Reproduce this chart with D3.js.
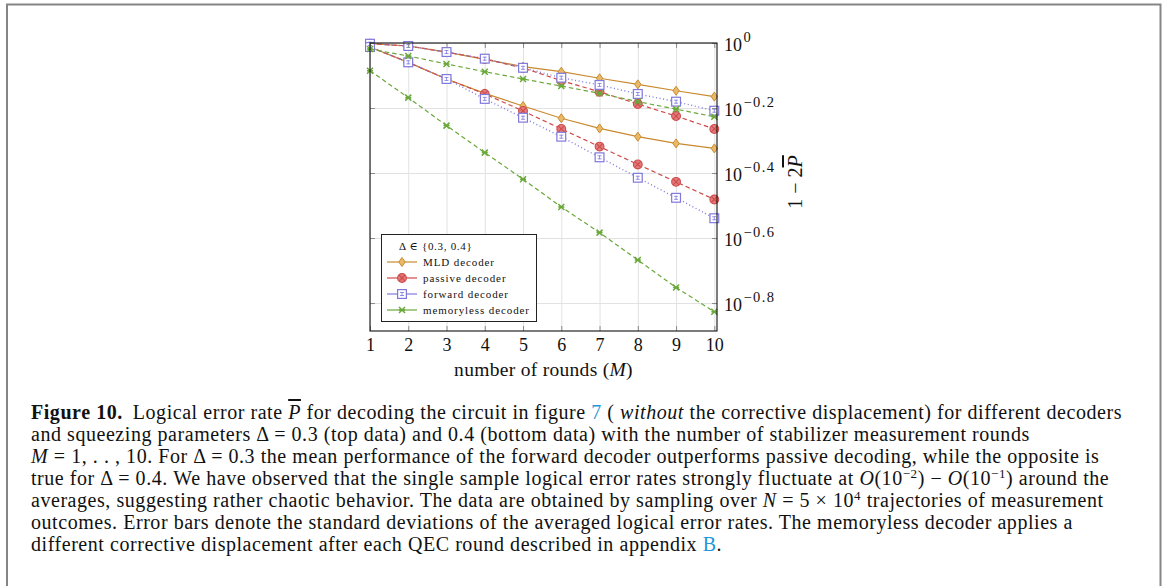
<!DOCTYPE html>
<html>
<head>
<meta charset="utf-8">
<script src="https://cdn.jsdelivr.net/npm/d3@7"></script>
<style>
	body { margin: 0; background: #fff; }
	svg text { font-family: 'Liberation Serif', 'DejaVu Serif', serif; fill: #111; }
</style>
</head>
<body>
<div id="chart"></div>
<script>
// number of rounds M
const rounds = [1, 2, 3, 4, 5, 6, 7, 8, 9, 10];

// 1 - 2P, Delta = 0.3 (top data)
const mldTop = [0.995, 0.979, 0.938, 0.891, 0.846, 0.816, 0.779, 0.746, 0.713, 0.684];
const passiveTop = [0.995, 0.979, 0.938, 0.893, 0.838, 0.766, 0.708, 0.649, 0.596, 0.544];
const forwardTop = [0.995, 0.979, 0.938, 0.895, 0.839, 0.782, 0.743, 0.697, 0.660, 0.619];
const memorylessTop = [0.958, 0.912, 0.862, 0.816, 0.775, 0.737, 0.700, 0.660, 0.626, 0.593];

// 1 - 2P, Delta = 0.4 (bottom data)
const mldBottom = [0.972, 0.872, 0.775, 0.700, 0.640, 0.587, 0.546, 0.515, 0.491, 0.474];
const passiveBottom = [0.972, 0.872, 0.775, 0.697, 0.618, 0.544, 0.480, 0.423, 0.374, 0.330];
const forwardBottom = [0.972, 0.872, 0.775, 0.673, 0.589, 0.515, 0.445, 0.385, 0.334, 0.289];
const memorylessBottom = [0.822, 0.679, 0.557, 0.460, 0.381, 0.313, 0.261, 0.215, 0.177, 0.149];

const decoderNames = ['MLD decoder', 'passive decoder', 'forward decoder', 'memoryless decoder'];
const yTickExponents = [0, -0.2, -0.4, -0.6, -0.8];
const yTickLabels = ['0', '\u22120.2', '\u22120.4', '\u22120.6', '\u22120.8'];
const legendTitle = '\u0394 \u2208 {0.3, 0.4}';
const xTitle = 'number of rounds (';

// caption, one array per printed line
const captionLines = [
	[['Figure 10.', 'b'], ['Logical error rate ', 'gap'], ['P', 'ov'], [' for decoding the circuit in figure '], ['7', 'a'], [' ( '], ['without', 'i'], [' the corrective displacement) for different decoders']],
	[['and squeezing parameters \u0394 = 0.3 (top data) and 0.4 (bottom data) with the number of stabilizer measurement rounds']],
	[['M', 'i'], [' = 1, . . , 10. For \u0394 = 0.3 the mean performance of the forward decoder outperforms passive decoding, while the opposite is']],
	[['true for \u0394 = 0.4. We have observed that the single sample logical error rates strongly fluctuate at '], ['O', 'i'], ['(10'], ['\u22122', 'sup'], [') \u2212 '], ['O', 'i'], ['(10'], ['\u22121', 'sup'], [') around the']],
	[['averages, suggesting rather chaotic behavior. The data are obtained by sampling over '], ['N', 'i'], [' = 5 \u00d7 10'], ['4', 'sup'], [' trajectories of measurement']],
	[['outcomes. Error bars denote the standard deviations of the averaged logical error rates. The memoryless decoder applies a']],
	[['different corrective displacement after each QEC round described in appendix '], ['B', 'a'], ['.']]
];

class DecoderChart {

	/**
	 * @param {HTMLElement} element
	 */
	constructor(element) {
		this.element = element;
		this.plot = { left: 370, right: 717, top: 43, bottom: 331 };
	}

	create() {
		this.svg = d3.select(this.element).append('svg')
			.attr('width', 1165)
			.attr('height', 586);

		this.svg.append('rect')
			.attr('x', 7).attr('y', 4.5)
			.attr('width', 1153.5).attr('height', 620)
			.attr('fill', 'none')
			.attr('stroke', '#858585')
			.attr('stroke-width', 2);

		const p = this.plot;
		this.x = d3.scaleLinear().domain([1, 10.07]).range([p.left, p.right]);
		this.y = d3.scaleLog().domain([Math.pow(10, -0.886), 1]).range([p.bottom, p.top]);

		this._drawGrid();
		this._drawSeries();
		this._drawAxes();
		this._drawLegend();
		this._drawCaption();
	}

	_drawGrid() {
		const p = this.plot;
		const yTicks = yTickExponents.map(e => Math.pow(10, e));
		const grid = this.svg.append('g').attr('class', 'grid');

		grid.append('g')
			.attr('transform', `translate(0,${p.bottom})`)
			.call(d3.axisBottom(this.x).tickValues(rounds).tickSize(-(p.bottom - p.top)).tickFormat(''));
		grid.append('g')
			.attr('transform', `translate(${p.left},0)`)
			.call(d3.axisLeft(this.y).tickValues(yTicks).tickSize(-(p.right - p.left)).tickFormat(''));

		grid.selectAll('.domain').remove();
		grid.selectAll('line').attr('stroke', '#e2e2e2').attr('stroke-width', 1);
	}

	_markerStyles() {
		return [
			{ kind: 'diamond', color: '#c98a2e', fill: '#e9b968', dash: null, width: 1.2 },
			{ kind: 'otimes', color: '#d04a4a', fill: '#e27c7c', dash: '4.5,3', width: 1.2 },
			{ kind: 'boxplus', color: '#7f79dd', fill: '#ffffff', dash: '1,2.6', width: 1.4 },
			{ kind: 'cross', color: '#6aa83a', fill: '#6aa83a', dash: '4.5,3', width: 1.2 }
		];
	}

	/**
	 * @param {d3.selection} g
	 * @param {Object} style
	 */
	_drawMarker(g, style) {
		const c = style.color;
		if (style.kind === 'diamond') {
			g.append('path').attr('d', 'M0,-4.5L3.2,0L0,4.5L-3.2,0Z')
				.attr('fill', style.fill).attr('stroke', c).attr('stroke-width', 1);
		} else if (style.kind === 'otimes') {
			g.append('circle').attr('r', 4.4)
				.attr('fill', style.fill).attr('stroke', c).attr('stroke-width', 1.1);
			g.append('path').attr('d', 'M-3,-3L3,3M-3,3L3,-3')
				.attr('stroke', c).attr('stroke-width', 1.1);
		} else if (style.kind === 'boxplus') {
			g.append('rect').attr('x', -4.4).attr('y', -4.4).attr('width', 8.8).attr('height', 8.8)
				.attr('fill', style.fill).attr('stroke', c).attr('stroke-width', 1.2);
			g.append('path').attr('d', 'M-2,-1.5L2,-1.5M-2,1.5L2,1.5M0,-2L0,2')
				.attr('stroke', c).attr('stroke-width', 0.8);
		} else {
			g.append('path').attr('d', 'M-3,-3L3,3M-3,3L3,-3M-3,0L3,0')
				.attr('stroke', c).attr('stroke-width', 1.5);
		}
	}

	_drawSeries() {
		const styles = this._markerStyles();
		const groups = [
			[mldTop, passiveTop, forwardTop, memorylessTop],
			[mldBottom, passiveBottom, forwardBottom, memorylessBottom]
		];
		const line = d3.line()
			.x((d, i) => this.x(rounds[i]))
			.y(d => this.y(d));
		const layer = this.svg.append('g').attr('class', 'series');

		styles.forEach((style, k) => {
			groups.forEach(group => {
				const values = group[k];
				layer.append('path')
					.datum(values)
					.attr('d', line)
					.attr('fill', 'none')
					.attr('stroke', style.color)
					.attr('stroke-width', style.width)
					.attr('stroke-dasharray', style.dash);
				layer.append('g')
					.selectAll('g')
					.data(values)
					.join('g')
					.attr('transform', (d, i) => `translate(${this.x(rounds[i])},${this.y(d)})`)
					.each((d, i, nodes) => this._drawMarker(d3.select(nodes[i]), style));
			});
		});
	}

	_drawAxes() {
		const p = this.plot;
		const yTicks = yTickExponents.map(e => Math.pow(10, e));
		const axes = this.svg.append('g').attr('class', 'axes');

		const bottom = axes.append('g')
			.attr('transform', `translate(0,${p.bottom})`)
			.call(d3.axisBottom(this.x).tickValues(rounds).tickSizeInner(-5).tickSizeOuter(0).tickPadding(6));
		axes.append('g')
			.attr('transform', `translate(0,${p.top})`)
			.call(d3.axisTop(this.x).tickValues(rounds).tickSizeInner(-5).tickSizeOuter(0).tickFormat(''));
		axes.append('g')
			.attr('transform', `translate(${p.left},0)`)
			.call(d3.axisLeft(this.y).tickValues(yTicks).tickSizeInner(-5).tickSizeOuter(0).tickFormat(''));
		const right = axes.append('g')
			.attr('transform', `translate(${p.right},0)`)
			.call(d3.axisRight(this.y).tickValues(yTicks).tickSizeInner(-5).tickSizeOuter(0).tickPadding(7).tickFormat(''));

		axes.selectAll('.domain').remove();
		axes.selectAll('.tick line').attr('stroke', '#8a8a8a');

		bottom.selectAll('.tick text')
			.attr('font-family', 'Liberation Serif')
			.attr('font-size', 18)
			.attr('fill', '#111')
			.attr('dy', '0.75em');

		right.selectAll('.tick text').each((d, i, nodes) => {
			const t = d3.select(nodes[i])
				.attr('font-family', 'Liberation Serif')
				.attr('font-size', 18)
				.attr('fill', '#111')
				.attr('dy', '0.4em');
			t.append('tspan').text('10');
			t.append('tspan').attr('dx', 1.5).attr('dy', -8.5).attr('font-size', 14.5).attr('letter-spacing', 1.4).text(yTickLabels[i]);
		});

		// frame
		axes.append('rect')
			.attr('x', p.left).attr('y', p.top)
			.attr('width', p.right - p.left).attr('height', p.bottom - p.top)
			.attr('fill', 'none')
			.attr('stroke', '#111')
			.attr('stroke-width', 1.1);

		const xt = axes.append('text')
			.attr('x', (p.left + p.right) / 2)
			.attr('y', 376)
			.attr('text-anchor', 'middle')
			.attr('font-size', 19.5)
			.attr('letter-spacing', 0.3);
		xt.append('tspan').text(xTitle);
		xt.append('tspan').attr('font-style', 'italic').text('M');
		xt.append('tspan').text(')');

		const yt = axes.append('text')
			.attr('transform', 'translate(802,182) rotate(-90)')
			.attr('text-anchor', 'middle')
			.attr('font-size', 20);
		yt.append('tspan').text('1 \u2212 2');
		yt.append('tspan').attr('font-style', 'italic').style('text-decoration', 'overline').text('P');
	}

	_drawLegend() {
		const styles = this._markerStyles();
		const legend = this.svg.append('g').attr('class', 'legend');

		legend.append('rect')
			.attr('x', 381.5).attr('y', 234.5)
			.attr('width', 155).attr('height', 87)
			.attr('fill', '#fff')
			.attr('stroke', '#222')
			.attr('stroke-width', 1);

		legend.append('text')
			.attr('x', 399).attr('y', 250)
			.attr('font-size', 11)
			.attr('letter-spacing', 0.7)
			.text(legendTitle);

		const rows = legend.selectAll('g.row')
			.data(decoderNames)
			.join('g')
			.attr('class', 'row')
			.attr('transform', (d, i) => `translate(0,${262 + i * 16})`);

		rows.append('line')
			.attr('x1', 387).attr('x2', 417)
			.attr('stroke', (d, i) => styles[i].color)
			.attr('stroke-width', 1.2);
		rows.append('g')
			.attr('transform', 'translate(402,0)')
			.each((d, i, nodes) => this._drawMarker(d3.select(nodes[i]), styles[i]));
		rows.append('text')
			.attr('x', 423).attr('y', 3.8)
			.attr('font-size', 11)
			.attr('letter-spacing', 0.9)
			.attr('fill', '#333')
			.text(d => d);
	}

	_drawCaption() {
		const caption = this.svg.append('g').attr('class', 'caption');

		captionLines.forEach((segments, row) => {
			const text = caption.append('text')
				.attr('x', 31)
				.attr('y', 419 + row * 22)
				.attr('font-size', 20)
				.attr('letter-spacing', 0.55)
				.attr('fill', '#1a1a1a');
			let raised = false;
			segments.forEach(([content, kind]) => {
				const span = text.append('tspan').text(content);
				if (raised && kind !== 'sup') {
					span.attr('dy', 7);
					raised = false;
				}
				if (kind === 'b') span.attr('font-weight', 'bold');
				if (kind === 'gap') span.attr('dx', 10);
				if (kind === 'i') span.attr('font-style', 'italic');
				if (kind === 'ov') span.attr('font-style', 'italic').style('text-decoration', 'overline');
				if (kind === 'a') span.attr('fill', '#2196d8');
				if (kind === 'sup') {
					span.attr('dy', -7).attr('font-size', 13);
					raised = true;
				}
			});
		});
	}
}

new DecoderChart(document.getElementById('chart')).create();
</script>
</body>
</html>
